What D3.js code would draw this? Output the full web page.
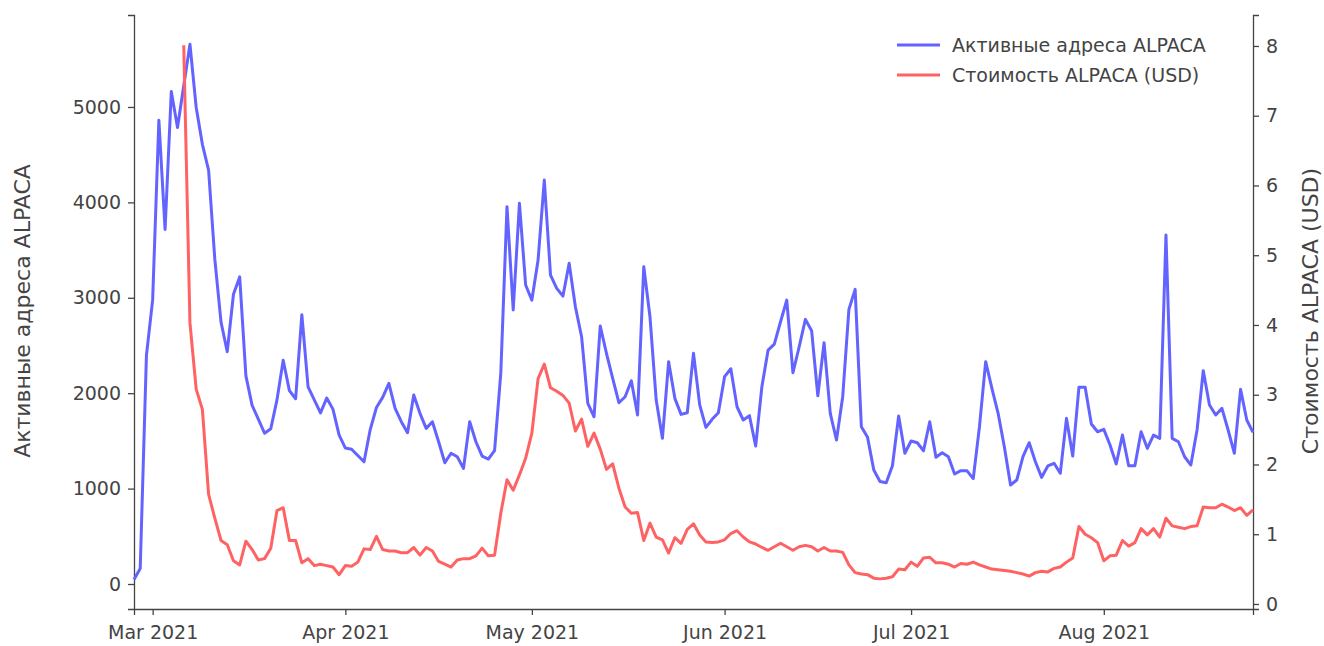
<!DOCTYPE html>
<html>
<head>
<meta charset="utf-8">
<script src="https://cdn.jsdelivr.net/npm/d3@7"></script>
<style>
  body { margin: 0; background: #fff; }
  svg text { font-family: "DejaVu Sans", Verdana, sans-serif; fill: #444; }
</style>
</head>
<body>
<svg id="chart" width="1324" height="646"></svg>
<script>
// daily series, first day and last day of the range
var startDay = "2021-02-26";
var endDay = "2021-08-25";

// active addresses ALPACA (left axis)
var addresses = [
  47, 163, 2396, 2978, 4862, 3716, 5161, 4784, 5223, 5658,
  4998, 4609, 4337, 3405, 2745, 2435, 3037, 3219, 2182, 1872,
  1728, 1580, 1627, 1930, 2345, 2027, 1942, 2823, 2066, 1930,
  1794, 1949, 1833, 1561, 1425, 1413, 1347, 1281, 1619, 1850,
  1956, 2103, 1841, 1701, 1586, 1981, 1789, 1631, 1701, 1491,
  1271, 1370, 1334, 1212, 1701, 1491, 1341, 1310, 1397, 2208,
  3954, 2872, 3990, 3134, 2976, 3396, 4234, 3238, 3099, 3018,
  3361, 2906, 2592, 1894, 1753, 2704, 2418, 2156, 1900, 1963,
  2131, 1771, 3325, 2801, 1928, 1527, 2330, 1946, 1778, 1795,
  2418, 1876, 1642, 1726, 1795, 2173, 2256, 1858, 1719, 1764,
  1446, 2068, 2452, 2515, 2749, 2976, 2214, 2487, 2774, 2655,
  1973, 2529, 1789, 1509, 1963, 2879, 3088, 1649, 1537, 1195,
  1075, 1062, 1240, 1761, 1370, 1499, 1481, 1397, 1701, 1328,
  1376, 1334, 1153, 1188, 1186, 1104, 1649, 2330, 2051, 1789,
  1439, 1038, 1090, 1334, 1481, 1282, 1118, 1237, 1265, 1160,
  1736, 1341, 2061, 2061, 1677, 1596, 1621, 1457, 1258, 1561,
  1240, 1240, 1596, 1422, 1561, 1527, 3658, 1527, 1491, 1334,
  1247, 1614, 2236, 1876, 1771, 1841, 1614, 1370, 2040, 1719,
  1590
];

// ALPACA price in USD (right axis), no price for the first days
var price = [
  null, null, null, null, null, null, null, null, 8.01, 4.03,
  3.08, 2.79, 1.57, 1.23, 0.91, 0.85, 0.62, 0.56, 0.90, 0.78,
  0.63, 0.65, 0.80, 1.34, 1.38, 0.91, 0.91, 0.59, 0.65, 0.55,
  0.57, 0.55, 0.53, 0.42, 0.55, 0.54, 0.60, 0.79, 0.78, 0.97,
  0.78, 0.76, 0.76, 0.735, 0.735, 0.81, 0.70, 0.81, 0.76, 0.61,
  0.57, 0.53, 0.63, 0.65, 0.65, 0.69, 0.80, 0.69, 0.70, 1.30,
  1.78, 1.63, 1.85, 2.09, 2.45, 3.23, 3.44, 3.10, 3.05, 2.99,
  2.88, 2.48, 2.65, 2.26, 2.45, 2.22, 1.93, 2.01, 1.66, 1.39,
  1.30, 1.31, 0.91, 1.16, 0.96, 0.92, 0.73, 0.95, 0.87, 1.07,
  1.15, 0.99, 0.89, 0.88, 0.89, 0.92, 1.01, 1.05, 0.96, 0.89,
  0.86, 0.81, 0.77, 0.82, 0.87, 0.82, 0.77, 0.82, 0.84, 0.82,
  0.76, 0.81, 0.76, 0.76, 0.74, 0.56, 0.45, 0.43, 0.42, 0.37,
  0.36, 0.37, 0.39, 0.50, 0.49, 0.60, 0.54, 0.66, 0.67, 0.59,
  0.59, 0.57, 0.53, 0.58, 0.57, 0.60, 0.56, 0.53, 0.50, 0.49,
  0.48, 0.47, 0.45, 0.43, 0.40, 0.45, 0.47, 0.46, 0.51, 0.53,
  0.60, 0.66, 1.11, 1.00, 0.95, 0.88, 0.62, 0.69, 0.70, 0.91,
  0.83, 0.88, 1.08, 0.99, 1.08, 0.96, 1.23, 1.12, 1.10, 1.08,
  1.11, 1.12, 1.39, 1.38, 1.38, 1.43, 1.39, 1.34, 1.38, 1.27,
  1.35
];

var leftTicks = [0, 1000, 2000, 3000, 4000, 5000];
var rightTicks = [0, 1, 2, 3, 4, 5, 6, 7, 8];
var seriesNames = ["Активные адреса ALPACA", "Стоимость ALPACA (USD)"];
var seriesColors = ["#6363ff", "#ff6262"];

// plot area
var margin = {top: 15, right: 71, bottom: 37, left: 134},
    width = 1324 - margin.left - margin.right,
    height = 646 - margin.top - margin.bottom;

var svg = d3.select("#chart")
  .append("g")
    .attr("transform", "translate(" + margin.left + "," + margin.top + ")");

var parse = d3.timeParse("%Y-%m-%d");
var days = d3.timeDay.range(parse(startDay), d3.timeDay.offset(parse(endDay), 1));

var x = d3.scaleTime()
  .domain([days[0], days[days.length - 1]])
  .range([0, width]);

var yLeft = d3.scaleLinear()
  .domain([-262, 5964])
  .range([height, 0]);

var yRight = d3.scaleLinear()
  .domain([-0.072, 8.444])
  .range([height, 0]);

// axes
var fmt = d3.timeFormat("%b %Y");
svg.append("g")
  .attr("transform", "translate(0," + height + ")")
  .call(d3.axisBottom(x).ticks(d3.timeMonth.every(1)).tickFormat(fmt).tickSizeOuter(0).tickSize(6).tickPadding(11));

svg.append("g")
  .call(d3.axisLeft(yLeft).tickValues(leftTicks).tickFormat(d3.format("d")).tickSizeOuter(0).tickSize(6).tickPadding(7));

svg.append("g")
  .attr("transform", "translate(" + width + ",0)")
  .call(d3.axisRight(yRight).tickValues(rightTicks).tickSizeOuter(0).tickSize(6).tickPadding(7));

svg.selectAll(".domain, .tick line")
  .attr("stroke", "#444")
  .attr("stroke-width", 1.3);
svg.selectAll(".tick text")
  .attr("font-size", "19px")
  .style("fill", "#444");

// axis titles
svg.append("text")
  .attr("text-anchor", "middle")
  .attr("transform", "translate(" + (22 - margin.left) + "," + (296) + ") rotate(-90)")
  .attr("dy", "0.35em")
  .attr("font-size", "22px")
  .text(seriesNames[0]);

svg.append("text")
  .attr("text-anchor", "middle")
  .attr("transform", "translate(" + (width + 57) + "," + (296) + ") rotate(-90)")
  .attr("dy", "0.35em")
  .attr("font-size", "22px")
  .text(seriesNames[1]);

// lines
var lineLeft = d3.line()
  .x(function(d, i) { return x(days[i]); })
  .y(function(d) { return yLeft(d); });

var lineRight = d3.line()
  .defined(function(d) { return d !== null; })
  .x(function(d, i) { return x(days[i]); })
  .y(function(d) { return yRight(d); });

svg.append("path")
  .datum(addresses)
  .attr("fill", "none")
  .attr("stroke", seriesColors[0])
  .attr("stroke-width", 3)
  .attr("stroke-linejoin", "round")
  .attr("d", lineLeft);

svg.append("path")
  .datum(price)
  .attr("fill", "none")
  .attr("stroke", seriesColors[1])
  .attr("stroke-width", 3)
  .attr("stroke-linejoin", "round")
  .attr("d", lineRight);

// legend
var legend = svg.append("g")
  .attr("transform", "translate(" + (897 - margin.left) + "," + (45 - margin.top) + ")");

seriesNames.forEach(function(name, i) {
  var row = legend.append("g").attr("transform", "translate(0," + (i * 30) + ")");
  row.append("line")
    .attr("x1", 0).attr("x2", 43)
    .attr("stroke", seriesColors[i])
    .attr("stroke-width", 3);
  row.append("text")
    .attr("x", 55)
    .attr("dy", "0.35em")
    .attr("font-size", "19px")
    .text(name);
});
</script>
</body>
</html>
